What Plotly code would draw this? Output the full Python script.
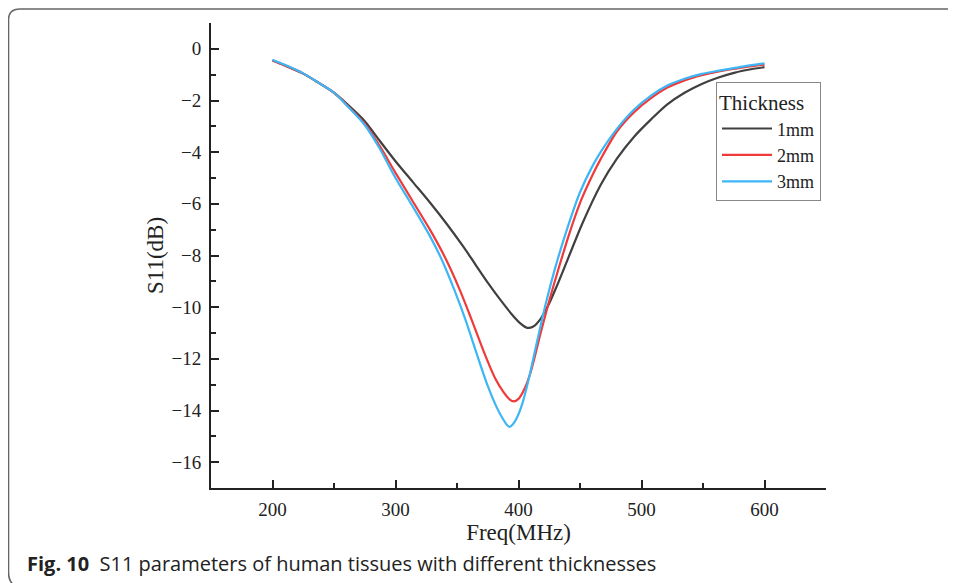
import plotly.graph_objects as go

# ---- data ----
freq_1mm = [200, 210, 225, 237, 250, 262, 275, 287, 300, 314, 328, 342, 355, 365, 375, 385, 395, 402, 407,
            412, 418, 424, 431, 440, 452, 467, 480, 494, 508, 521, 535, 549, 562, 576, 588, 600]
s11_1mm = [-0.45, -0.64, -0.96, -1.3, -1.7, -2.2, -2.8, -3.55, -4.35, -5.15, -5.95, -6.8, -7.65, -8.35, -9.05,
           -9.7, -10.3, -10.65, -10.8, -10.75, -10.45, -9.95, -9.2, -8.15, -6.75, -5.25, -4.25, -3.4, -2.72,
           -2.15, -1.7, -1.36, -1.12, -0.92, -0.8, -0.71]

freq_2mm = [200, 210, 225, 237, 250, 262, 275, 287, 300, 314, 328, 340, 352, 362, 372, 381, 388, 393, 396,
            400, 405, 410, 418, 425, 432, 441, 451, 460, 467, 480, 494, 508, 521, 535, 549, 562, 576, 588, 600]
s11_2mm = [-0.45, -0.64, -0.96, -1.3, -1.7, -2.25, -2.9, -3.75, -4.8, -5.9, -7.0, -8.05, -9.3, -10.5, -11.75,
           -12.75, -13.3, -13.58, -13.65, -13.55, -13.15, -12.5, -11.0, -9.75, -8.6, -7.2, -5.85, -4.9, -4.25,
           -3.2, -2.45, -1.9, -1.5, -1.22, -1.02, -0.88, -0.77, -0.68, -0.61]

freq_3mm = [200, 210, 225, 237, 250, 262, 275, 287, 300, 314, 328, 338, 348, 357, 366, 375, 382, 387, 391,
            393, 396, 399, 403, 408, 415, 422, 430, 440, 450, 460, 467, 480, 494, 508, 521, 535, 549, 562, 576,
            588, 600]
s11_3mm = [-0.42, -0.62, -0.95, -1.3, -1.7, -2.27, -2.95, -3.85, -5.0, -6.1, -7.25, -8.2, -9.35, -10.5, -11.8,
           -13.05, -13.85, -14.3, -14.58, -14.63, -14.5, -14.25, -13.75, -12.85, -11.35, -9.9, -8.45, -6.9,
           -5.55, -4.55, -3.98, -3.1, -2.35, -1.8, -1.42, -1.16, -0.97, -0.85, -0.74, -0.64, -0.56]

series_names = ["1mm", "2mm", "3mm"]
series_colors = ["#404040", "#f03a3a", "#3cb6f5"]

x_ticks = [200, 300, 400, 500, 600]
y_ticks = [0, -2, -4, -6, -8, -10, -12, -14, -16]

# page body has an 8px margin; the figure is sized so that it ends at the window edge
OFF = 8
W, H = 956 - OFF, 583 - OFF
# plot area in window pixels: left 211, right 826, top 23, bottom 488
L, R, T, B = 211 - OFF, 956 - 826, 23 - OFF, 583 - 488
PW, PH = W - L - R, H - T - B


def px(xw):
    return (xw - OFF - L) / PW


def py(yw):
    return (H - B - (yw - OFF)) / PH


fig = go.Figure()
for f, s, n, c in zip([freq_1mm, freq_2mm, freq_3mm], [s11_1mm, s11_2mm, s11_3mm], series_names, series_colors):
    fig.add_trace(go.Scatter(x=f, y=s, name=n, mode="lines",
                             line=dict(color=c, width=2.2, shape="spline", smoothing=0.8)))

serif = "Liberation Serif"
fig.update_layout(
    width=W, height=H, autosize=False,
    margin=dict(l=L, r=R, t=T, b=B),
    paper_bgcolor="white", plot_bgcolor="white",
    font=dict(family=serif, color="#222"),
    showlegend=True,
    legend=dict(
        x=px(716), y=py(82), xanchor="left", yanchor="top",
        bgcolor="white", bordercolor="#888", borderwidth=1,
        font=dict(family=serif, size=18, color="#222"),
        title=dict(text="Thickness", font=dict(family=serif, size=21, color="#222")),
        tracegroupgap=0, itemwidth=50,
    ),
    xaxis=dict(
        range=[150, 650], tickvals=x_ticks, ticktext=[str(v) for v in x_ticks],
        ticks="inside", ticklen=8, tickwidth=2, tickcolor="#222",
        minor=dict(dtick=50, tick0=0, ticks="inside", ticklen=5, tickwidth=2, tickcolor="#222"),
        showline=True, linewidth=2, linecolor="#222", showgrid=False, zeroline=False,
        tickfont=dict(family=serif, size=19, color="#222"), ticklabelstandoff=3,
        title=dict(text="Freq(MHz)", font=dict(family=serif, size=23, color="#222"), standoff=0),
    ),
    yaxis=dict(
        range=[-17, 1], tickvals=y_ticks,
        ticks="inside", ticklen=8, tickwidth=2, tickcolor="#222",
        minor=dict(dtick=1, tick0=0, ticks="inside", ticklen=5, tickwidth=2, tickcolor="#222"),
        showline=True, linewidth=2, linecolor="#222", showgrid=False, zeroline=False,
        tickfont=dict(family=serif, size=19, color="#222"), ticklabelstandoff=4,
        title=dict(text="S11(dB)", font=dict(family=serif, size=23, color="#222"), standoff=1),
    ),
)

# frame of the figure panel (rounded top-left corner)
path = (f"M {px(960)},{py(9)} L {px(20)},{py(9)} "
        f"Q {px(8.5)},{py(9)} {px(8.5)},{py(20)} "
        f"L {px(8.5)},{py(572)} Q {px(8.5)},{py(583)} {px(16)},{py(586)}")
fig.add_shape(type="path", xref="paper", yref="paper", path=path,
              line=dict(color="#666", width=1.6), layer="above")

fig.add_annotation(
    x=px(25), y=py(563), xref="paper", yref="paper", xanchor="left", yanchor="middle",
    showarrow=False, align="left",
    text="<b>Fig. 10</b>  S11 parameters of human tissues with different thicknesses",
    font=dict(family="Open Sans", size=20, color="#222"),
)

fig.write_html("out.html")
